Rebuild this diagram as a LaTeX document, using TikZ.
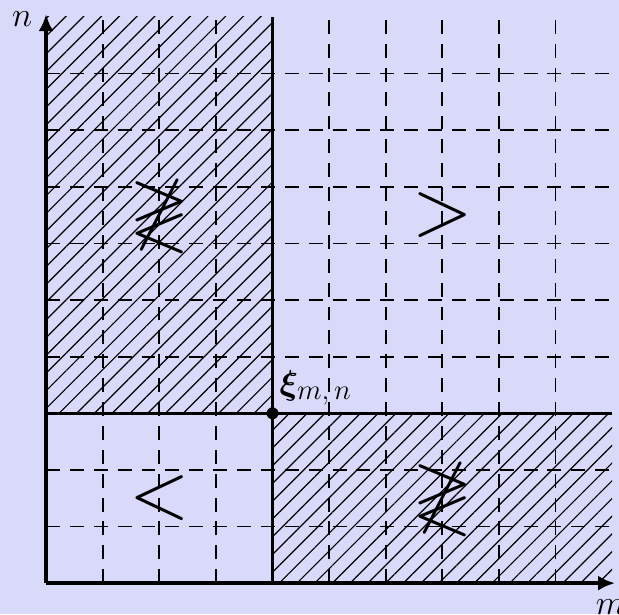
\documentclass[tikz,border=0pt]{standalone}
\usepackage{amsmath,amssymb}
\usepackage{bm}
\usepackage{xcolor}
\usetikzlibrary{arrows.meta, patterns.meta, positioning}
\definecolor{bgblue}{RGB}{217,217,250}

\begin{document}
\begin{tikzpicture}[
        axis/.style={-{Latex[length=8.5pt, width=7.5pt]}, line width=1.8pt},
        border/.style={line width=1.3pt},
        gridline/.style={dash pattern=on 7pt off 5pt, line width=0.9pt},
        hatched/.style={pattern={Lines[angle=45, distance=6.3pt, line width=0.6pt]}, pattern color=black},
        relsym/.style={scale=3.9, inner sep=0pt},
        axlabel/.style={font=\LARGE, inner sep=0pt},
        dot/.style={circle, fill=black, inner sep=0pt, minimum size=6pt},
    ]
        % Background
        \fill[bgblue] (-0.813,-0.548) rectangle (10.12,10.30);
        \useasboundingbox (-0.813,-0.548) rectangle (10.12,10.30);

        % Hatched regions
        \fill[hatched] (0,3) rectangle (4,10);
        \fill[hatched] (4,0) rectangle (10,3);

        % Grid
        \foreach \k in {1,...,9} {
            \draw[gridline] (\k,0) -- (\k,10);
            \draw[gridline] (0,\k) -- (10,\k);
        }

        % Borders
        \draw[border] (4,0) -- (4,10);
        \draw[border] (0,3) -- (10,3);

        % Axes
        \coordinate (o) at (0,0);
        \coordinate (xend) at (10.05,0);
        \coordinate (yend) at (0,10.05);
        \draw[axis] (o) -- (xend);
        \draw[axis] (o) -- (yend);
        \node[axlabel] (mlab) at (9.97,-0.43) {$m$};
        \node[axlabel] (nlab) at (-0.42,9.97) {$n$};

        % Point
        \node[dot] (xi) at (4,3) {};
        \node[axlabel, anchor=base west] (xilab) at (4.12,3.33) {$\bm{\xi}_{\text{\Large$m,n$}}$};

        % Relations
        \node[relsym] (gt) at (7,6.5) {$>$};
        \node[relsym] (lt) at (2,1.5) {$<$};
        \node[relsym] (ngl1) at (2,6.5) {$\not\gtrless$};
        \node[relsym] (ngl2) at (7,1.5) {$\not\gtrless$};
\end{tikzpicture}
\end{document}
